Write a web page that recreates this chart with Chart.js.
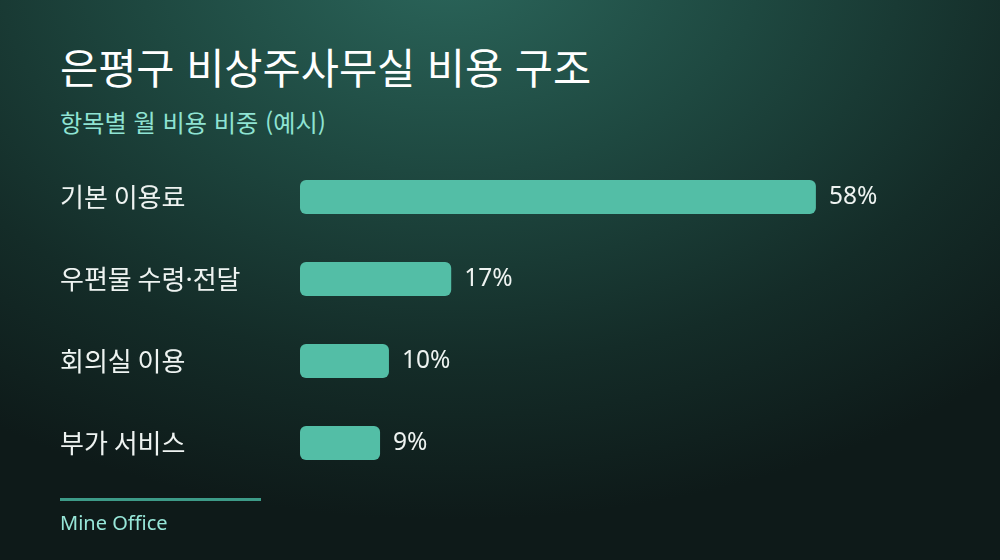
<!DOCTYPE html>
<html lang="ko">
<head>
<meta charset="utf-8">
<script src="https://cdn.jsdelivr.net/npm/chart.js@4.4.1/dist/chart.umd.min.js"></script>
<style>
  html, body { margin: 0; padding: 0; }
  body {
    width: 1000px; height: 560px; overflow: hidden; position: relative;
    font-family: 'Noto Sans CJK KR', 'Noto Sans', sans-serif;
    background:
      radial-gradient(ellipse 820px 560px at 450px -40px, #2b665b 0%, #1e4840 38%, #142c28 72%, #0e1a19 100%);
  }
  #title {
    position: absolute; left: 60px; top: 42px; margin: 0;
    font-size: 41.5px; font-weight: 400; color: #ffffff; line-height: 1.2;
  }
  #subtitle {
    position: absolute; left: 60px; top: 107px; margin: 0;
    font-size: 24.2px; font-weight: 400; color: #8fe3d3; line-height: 1.2;
  }
  #rule {
    position: absolute; left: 60px; top: 498px; width: 201px; height: 3px;
    background: #3d9b88;
  }
  #brand {
    position: absolute; left: 60px; top: 509px;
    font-size: 20px; color: #97e6d8; font-family: 'Noto Sans', sans-serif;
  }
  #wrap { position: absolute; left: 0; top: 0; width: 1000px; height: 560px; }
</style>
</head>
<body>
<h1 id="title">은평구 비상주사무실 비용 구조</h1>
<p id="subtitle">항목별 월 비용 비중 (예시)</p>
<div id="wrap"><canvas id="chart"></canvas></div>
<div id="rule"></div>
<div id="brand">Mine Office</div>

<script>
// categories and values
const categories = ['기본 이용료', '우편물 수령·전달', '회의실 이용', '부가 서비스'];
const shares = [58, 17, 10, 9];

const barColor = '#53bea6';
const labelColor = '#eef3f1';

// draws "58%" etc. just past the end of each bar
const valueLabels = {
    id: 'valueLabels',
    afterDatasetsDraw(chart) {
        const ctx = chart.ctx;
        const meta = chart.getDatasetMeta(0);
        ctx.save();
        ctx.fillStyle = labelColor;
        ctx.font = "24.5px 'Noto Sans', 'Noto Sans CJK KR', sans-serif";
        ctx.textBaseline = 'middle';
        ctx.textAlign = 'left';
        meta.data.forEach((bar, i) => {
            ctx.fillText(shares[i] + '%', bar.x + 13, bar.y);
        });
        ctx.restore();
    }
};

const ctx = document.getElementById('chart').getContext('2d');
new Chart(ctx, {
    type: 'bar',
    data: {
        labels: categories,
        datasets: [{
            data: shares,
            backgroundColor: barColor,
            borderRadius: 6,
            borderSkipped: false,
            categoryPercentage: 1,
            barPercentage: 0.415
        }]
    },
    options: {
        indexAxis: 'y',
        responsive: true,
        maintainAspectRatio: false,
        animation: false,
        layout: {
            padding: { left: 60, top: 156, bottom: 76, right: 0 }
        },
        plugins: {
            legend: { display: false },
            tooltip: { enabled: false }
        },
        scales: {
            x: {
                display: false,
                min: 0,
                max: 78.7
            },
            y: {
                grid: { display: false, drawTicks: false },
                border: { display: false },
                ticks: {
                    crossAlign: 'far',
                    color: labelColor,
                    padding: 0,
                    font: { family: "'Noto Sans CJK KR', sans-serif", size: 26 }
                },
                afterFit(scale) { scale.width = 240; }
            }
        }
    },
    plugins: [valueLabels]
});
</script>
</body>
</html>
